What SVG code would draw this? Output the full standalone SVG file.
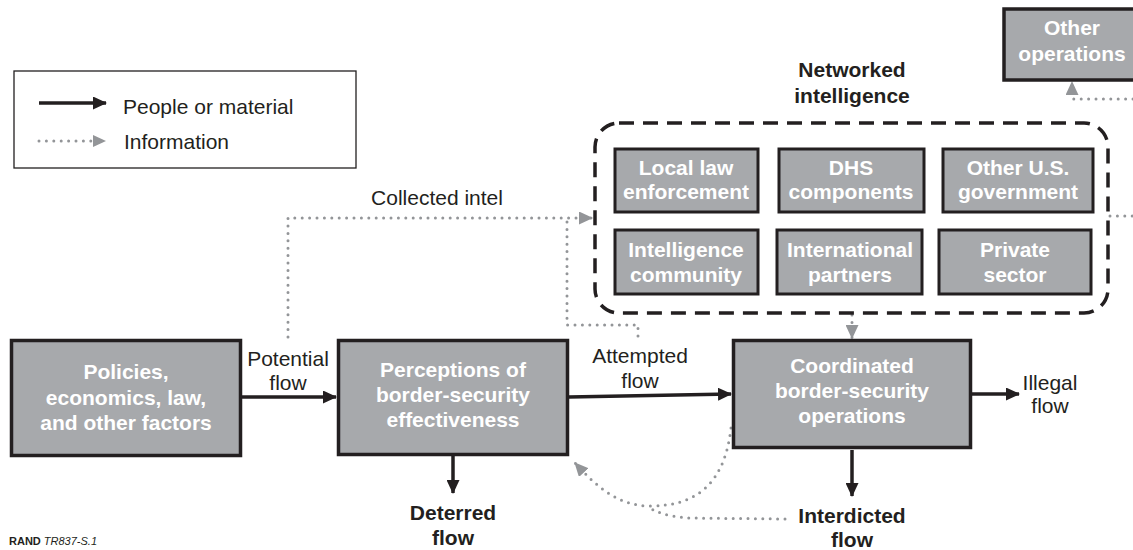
<svg xmlns="http://www.w3.org/2000/svg" width="1133" height="550" viewBox="0 0 1133 550">
<defs>
<style>
.box{fill:#a7a9ac;stroke:#231f20;stroke-width:3.5}
.ibox{fill:#a7a9ac;stroke:#231f20;stroke-width:3}
.nt{font-family:"Liberation Sans",Arial,sans-serif;font-weight:bold;font-size:21px;fill:#ffffff;text-anchor:middle}
.lb{font-family:"Liberation Sans",Arial,sans-serif;font-size:21px;fill:#231f20}
.lbb{font-family:"Liberation Sans",Arial,sans-serif;font-size:21px;font-weight:bold;fill:#231f20;text-anchor:middle}
.solid{fill:none;stroke:#231f20;stroke-width:3.5;marker-end:url(#ah)}
.dot{fill:none;stroke:#939598;stroke-width:3;stroke-linecap:round;stroke-dasharray:0 7.4}
.dota{fill:none;stroke:#939598;stroke-width:3;stroke-linecap:round;stroke-dasharray:0 7.4;marker-end:url(#gh)}
</style>
<marker id="ah" markerUnits="userSpaceOnUse" markerWidth="14" markerHeight="13" refX="13" refY="6.5" orient="auto"><path d="M0,0 L14,6.5 L0,13 z" fill="#231f20"/></marker>
<marker id="gh" markerUnits="userSpaceOnUse" markerWidth="14" markerHeight="13" refX="13" refY="6.5" orient="auto"><path d="M0,0 L14,6.5 L0,13 z" fill="#939598"/></marker>
</defs>
<rect width="1133" height="550" fill="#ffffff"/>

<g id="legend">
<rect x="14" y="71" width="342" height="97" fill="#ffffff" stroke="#231f20" stroke-width="1.3"/>
<line x1="39" y1="103" x2="106" y2="103" class="solid"/>
<text x="123" y="114" class="lb">People or material</text>
<line x1="39" y1="141" x2="92" y2="141" class="dot"/>
<path d="M93,135 L106,141 L93,147 z" fill="#939598"/>
<text x="124" y="149" class="lb">Information</text>
</g>

<g id="connectors">
<line x1="242" y1="397" x2="336" y2="397" class="solid"/>
<line x1="569" y1="397" x2="731" y2="394" class="solid"/>
<line x1="972" y1="394" x2="1019" y2="394" class="solid"/>
<line x1="453" y1="456" x2="453" y2="493" class="solid"/>
<line x1="852" y1="450" x2="852" y2="496" class="solid"/>
<path d="M288,337 L288,218 L592,218" class="dota"/>
<path d="M638,336 L638,325 L567,325 L567,218" class="dot"/>
<path d="M852,315 L852,338" class="dota"/>
<path d="M1133,99 L1072,99 L1072,82" class="dota"/>
<path d="M1110,216 L1133,216" class="dot"/>
<path d="M731,428 C725,480 700,506 650,506 C618,506 596,486 575,463" class="dota"/>
<path d="M785,519 L690,518 C668,517 656,512 648,507" class="dot"/>
</g>

<g id="other-operations">
<rect x="1004" y="9" width="138" height="71" class="box"/>
<text x="1072" y="35" class="nt">Other</text>
<text x="1072" y="61" class="nt">operations</text>
</g>

<g id="networked-intelligence">
<text x="852" y="77" class="lbb">Networked</text>
<text x="852" y="103" class="lbb">intelligence</text>
<rect x="595" y="123" width="513" height="190" rx="24" ry="24" fill="none" stroke="#231f20" stroke-width="3.5" stroke-dasharray="15 9"/>
</g>

<g id="local-law">
<rect x="615" y="149" width="143" height="63" class="ibox"/>
<text x="686" y="175" class="nt">Local law</text>
<text x="686" y="199" class="nt">enforcement</text>
</g>
<g id="dhs">
<rect x="779" y="149" width="145" height="63" class="ibox"/>
<text x="851" y="175" class="nt">DHS</text>
<text x="851" y="199" class="nt">components</text>
</g>
<g id="other-us-gov">
<rect x="943" y="149" width="150" height="63" class="ibox"/>
<text x="1018" y="175" class="nt">Other U.S.</text>
<text x="1018" y="199" class="nt">government</text>
</g>
<g id="intel-community">
<rect x="615" y="230" width="143" height="64" class="ibox"/>
<text x="686" y="257" class="nt">Intelligence</text>
<text x="686" y="282" class="nt">community</text>
</g>
<g id="intl-partners">
<rect x="777" y="230" width="145" height="64" class="ibox"/>
<text x="850" y="257" class="nt">International</text>
<text x="850" y="282" class="nt">partners</text>
</g>
<g id="private-sector">
<rect x="939" y="230" width="152" height="64" class="ibox"/>
<text x="1015" y="257" class="nt">Private</text>
<text x="1015" y="282" class="nt">sector</text>
</g>

<g id="policies">
<rect x="11.5" y="340.5" width="229" height="115" class="box"/>
<text x="126" y="379" class="nt">Policies,</text>
<text x="126" y="405" class="nt">economics, law,</text>
<text x="126" y="430" class="nt">and other factors</text>
</g>

<g id="perceptions">
<rect x="338.5" y="340.5" width="229" height="114" class="box"/>
<text x="453" y="377" class="nt">Perceptions of</text>
<text x="453" y="402" class="nt">border-security</text>
<text x="453" y="427" class="nt">effectiveness</text>
</g>

<g id="coordinated">
<rect x="733.5" y="340.5" width="237" height="107" class="box"/>
<text x="852" y="373" class="nt">Coordinated</text>
<text x="852" y="398" class="nt">border-security</text>
<text x="852" y="423" class="nt">operations</text>
</g>

<g id="labels">
<text x="437" y="205" class="lb" text-anchor="middle">Collected intel</text>
<text x="288" y="366" class="lb" text-anchor="middle">Potential</text>
<text x="288" y="390" class="lb" text-anchor="middle">flow</text>
<text x="640" y="363" class="lb" text-anchor="middle">Attempted</text>
<text x="640" y="388" class="lb" text-anchor="middle">flow</text>
<text x="1050" y="390" class="lb" text-anchor="middle">Illegal</text>
<text x="1050" y="413" class="lb" text-anchor="middle">flow</text>
<text x="453" y="520" class="lbb">Deterred</text>
<text x="453" y="545" class="lbb">flow</text>
<text x="852" y="523" class="lbb">Interdicted</text>
<text x="852" y="547" class="lbb">flow</text>
<text x="9" y="545" font-family="'Liberation Sans',Arial,sans-serif" font-size="11" fill="#231f20"><tspan font-weight="bold">RAND</tspan> <tspan font-style="italic">TR837-S.1</tspan></text>
</g>
</svg>
